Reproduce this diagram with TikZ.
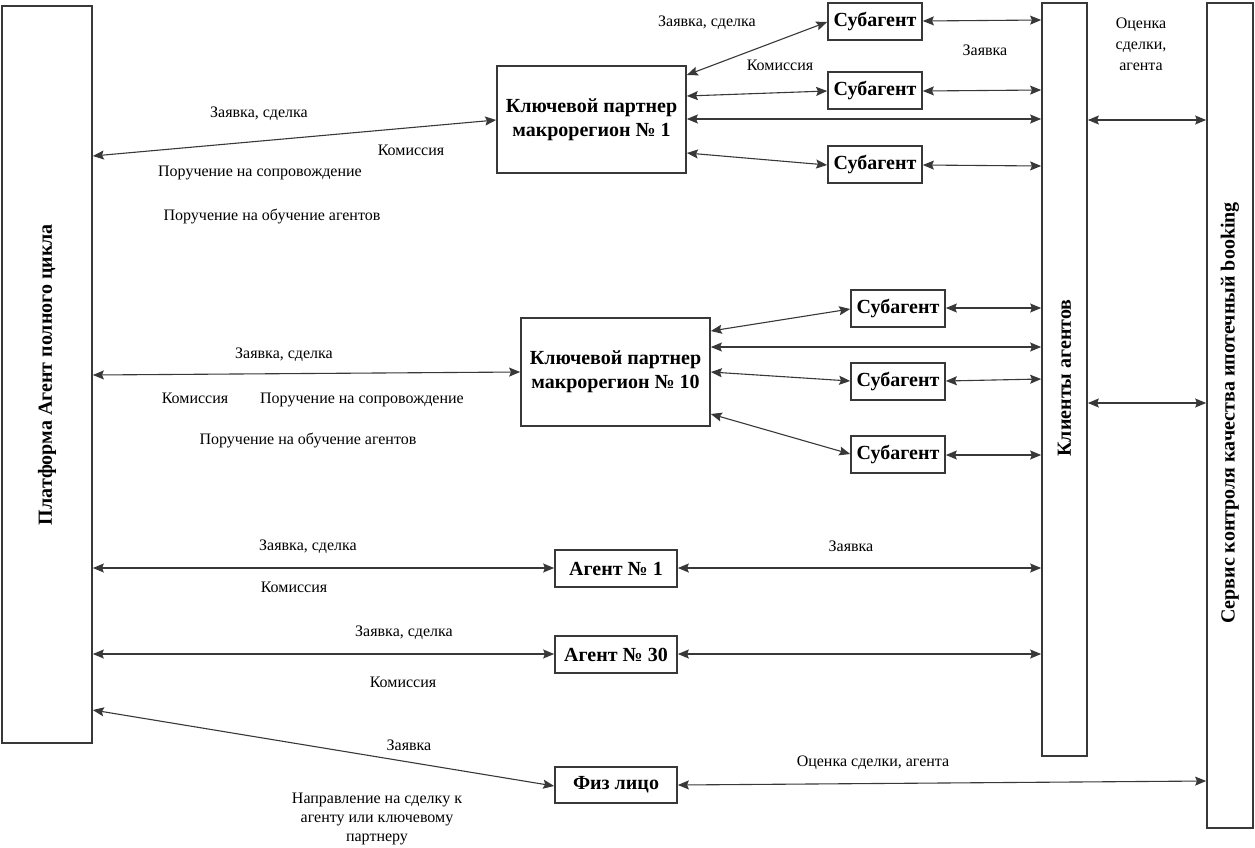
\documentclass[tikz,border=0pt]{standalone}
\usepackage{fontspec}
\setmainfont{Liberation Serif}
\usetikzlibrary{arrows.meta}
\definecolor{ln}{HTML}{383838}
\tikzset{
  box/.style={draw=ln, line width=1.7pt, fill=white, inner sep=0pt, align=center,
              font=\fontsize{20}{24}\selectfont\bfseries},
  sub/.style={box, minimum width=94pt, minimum height=37pt},
  kp/.style={box, minimum width=189pt, minimum height=107pt},
  ag/.style={box, minimum width=122pt, minimum height=37pt},
  tall/.style={box, minimum width=45pt},
  vtxt/.style={rotate=90, inner sep=0pt, font=\fontsize{20}{24}\selectfont\bfseries},
  lbl/.style={inner sep=0pt, align=center, yshift=-2pt, font=\fontsize{16}{21}\selectfont},
  tip/.tip={Stealth[length=11pt,width=9pt,inset=1.8pt]},
  link/.style={draw=ln, line width=1.1pt, tip-tip},
}
\begin{document}
\begin{tikzpicture}[x=1pt,y=-1pt]
\useasboundingbox (0,0) rectangle (1255,847);
% boxes
\node[tall, minimum width=90pt, minimum height=737pt] (plat) at (47,374.5) {};
\node[vtxt] (platt) at (47,374.5) {Платформа Агент полного цикла};
\node[tall, minimum height=753pt] (cl) at (1064.5,379.5) {};
\node[vtxt] (clt) at (1064.5,378) {Клиенты агентов};
\node[tall, minimum width=46pt, minimum height=825pt] (srv) at (1230,415.5) {};
\node[vtxt] (srvt) at (1230,413) {Сервис контроля качества ипотечный booking};

\node[kp] (kp1) at (591.5,119.5) {Ключевой партнер\\макрорегион № 1};
\node[sub] (s1) at (875,21.5) {Субагент};
\node[sub] (s2) at (875,90.5) {Субагент};
\node[sub] (s3) at (875,164.5) {Субагент};

\node[kp, minimum height=108pt] (kp10) at (615.5,372) {Ключевой партнер\\макрорегион № 10};
\node[sub] (m1) at (898,308.5) {Субагент};
\node[sub] (m2) at (898,381.5) {Субагент};
\node[sub] (m3) at (898,454.5) {Субагент};

\node[ag] (a1) at (616,568.5) {Агент № 1};
\node[ag] (a30) at (616,654.5) {Агент № 30};
\node[ag, minimum height=36pt] (fiz) at (616,785) {Физ лицо};

% connectors
\draw[link] (plat.east |- 0,156) -- (kp1.west |- 0,120);
\draw[link] (kp1.east |- 0,75) -- (s1.west |- 0,22);
\draw[link] (s1.east |- 0,21) -- (cl.west |- 0,20);
\draw[link] (kp1.east |- 0,96) -- (s2.west |- 0,91);
\draw[link] (kp1.east |- 0,119) -- (cl.west |- 0,119);
\draw[link] (kp1.east |- 0,153) -- (s3.west |- 0,165);
\draw[link] (s2.east |- 0,91) -- (cl.west |- 0,90);
\draw[link] (s3.east |- 0,165) -- (cl.west |- 0,166);
\draw[link] (cl.east |- 0,120) -- (srv.west |- 0,120);

\draw[link] (plat.east |- 0,375) -- (kp10.west |- 0,372);
\draw[link] (kp10.east |- 0,331) -- (m1.west |- 0,309);
\draw[link] (kp10.east |- 0,347) -- (cl.west |- 0,347);
\draw[link] (kp10.east |- 0,372) -- (m2.west |- 0,381);
\draw[link] (kp10.east |- 0,414) -- (m3.west |- 0,454);
\draw[link] (m1.east |- 0,308) -- (cl.west |- 0,308);
\draw[link] (m2.east |- 0,381) -- (cl.west |- 0,379);
\draw[link] (m3.east |- 0,455) -- (cl.west |- 0,455);
\draw[link] (cl.east |- 0,403) -- (srv.west |- 0,403);

\draw[link] (plat.east |- 0,568) -- (a1.west |- 0,568);
\draw[link] (a1.east |- 0,568) -- (cl.west |- 0,568);
\draw[link] (plat.east |- 0,654) -- (a30.west |- 0,654);
\draw[link] (a30.east |- 0,654) -- (cl.west |- 0,654);
\draw[link] (plat.east |- 0,710) -- (fiz.west |- 0,786);
\draw[link] (fiz.east |- 0,785) -- (srv.west |- 0,781);

% labels
\node[lbl] (l1) at (707,21) {Заявка, сделка};
\node[lbl] (l2) at (780,63) {Комиссия};
\node[lbl] (l3) at (985,48) {Заявка};
\node[lbl] (l4) at (1141,42) {Оценка\\сделки,\\агента};
\node[lbl] (l5) at (259,112) {Заявка, сделка};
\node[lbl] (l6) at (411,148) {Комиссия};
\node[lbl] (l7) at (260,171) {Поручение на сопровождение};
\node[lbl] (l8) at (272,214) {Поручение на обучение агентов};
\node[lbl] (l9) at (284,353) {Заявка, сделка};
\node[lbl] (l10) at (195,396) {Комиссия};
\node[lbl] (l11) at (362,398) {Поручение на сопровождение};
\node[lbl] (l12) at (308,438) {Поручение на обучение агентов};
\node[lbl] (l13) at (308,545) {Заявка, сделка};
\node[lbl] (l14) at (851,544) {Заявка};
\node[lbl] (l15) at (294,585) {Комиссия};
\node[lbl] (l16) at (404,631) {Заявка, сделка};
\node[lbl] (l17) at (403,680) {Комиссия};
\node[lbl] (l18) at (409,743) {Заявка};
\node[lbl, font=\fontsize{16}{19}\selectfont] (l19) at (377,817) {Направление на сделку к\\агенту или ключевому\\партнеру};
\node[lbl] (l20) at (873,761) {Оценка сделки, агента};
\end{tikzpicture}
\end{document}
